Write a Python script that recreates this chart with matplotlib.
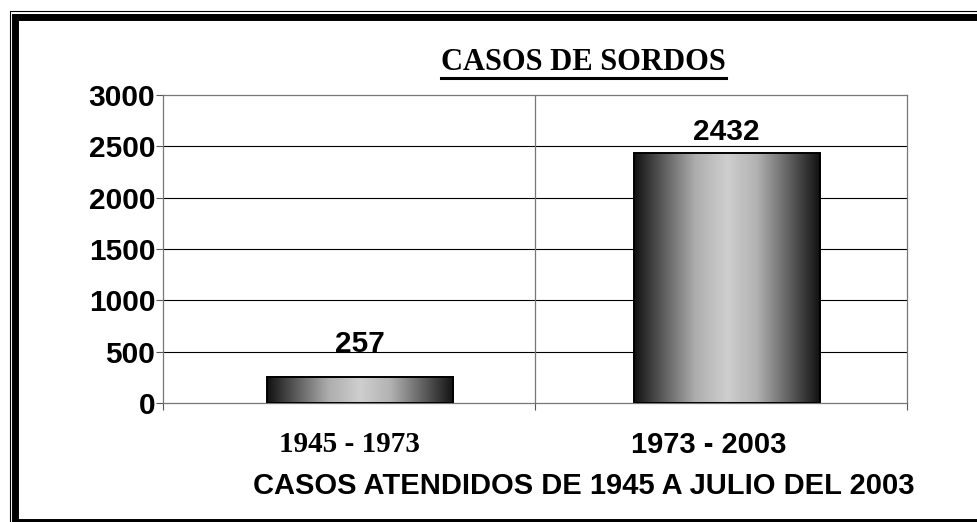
import numpy as np
import matplotlib
matplotlib.use('Agg')
import matplotlib.pyplot as plt
from matplotlib.colors import LinearSegmentedColormap
from matplotlib.patches import Rectangle
from matplotlib.lines import Line2D
import matplotlib.transforms as mtransforms

# data
periodos = ['1945 - 1973', '1973 - 2003']
casos = [257, 2432]
titulo = 'CASOS DE SORDOS'
xlabel = 'CASOS ATENDIDOS DE 1945 A JULIO DEL 2003'
yticks = [0, 500, 1000, 1500, 2000, 2500, 3000]

W, H = 977, 522
fig = plt.figure(figsize=(W/100, H/100), dpi=100)
fig.patch.set_facecolor('white')

def fx(px): return px / W
def fy(py): return (H - py) / H

# double frame (cropped at right / bottom in the original)
fig.add_artist(Rectangle((fx(9.5), fy(528)), fx(1000), fy(10.5) - fy(528),
                         transform=fig.transFigure, fill=False, ec='black', lw=0.8))
fig.add_artist(Rectangle((fx(15.5), fy(521.5)), fx(1000), fy(16.5) - fy(521.5),
                         transform=fig.transFigure, fill=False, ec='black', lw=5.0))

ax = fig.add_axes([fx(163), fy(403), fx(907) - fx(163), fy(95) - fy(403)])

# gradient bars
cmap = LinearSegmentedColormap.from_list('bar', [
    (0.0, (0.07, 0.07, 0.07)), (0.15, (0.35, 0.35, 0.35)), (0.33, (0.68, 0.68, 0.68)),
    (0.5, (0.81, 0.81, 0.81)), (0.66, (0.70, 0.70, 0.70)), (0.85, (0.35, 0.35, 0.35)),
    (1.0, (0.07, 0.07, 0.07))])
grad = np.linspace(0, 1, 256).reshape(1, -1)
width = 0.5
x = np.arange(len(casos))
bar_x = x + np.array([0.03, 0.015])  # bars sit a bit right of the category centre
for xi, v in zip(bar_x, casos):
    ax.imshow(grad, cmap=cmap, extent=[xi - width/2, xi + width/2, 0, v],
              aspect='auto', zorder=2, interpolation='bilinear')
bars = ax.bar(bar_x, casos, width=width, fill=False, edgecolor='black', linewidth=1.4, zorder=3)
ax.set_xlim(-0.5, 1.5)
ax.set_ylim(0, 3000)

# value labels
offsets = [19, 7]
for b, v, off in zip(bars, casos, offsets):
    ax.annotate(str(v), (b.get_x() + b.get_width()/2, v), xytext=(0, off * 0.72),
                textcoords='offset points', ha='center', va='bottom',
                fontsize=21.5, fontweight='bold', family='Liberation Sans', zorder=4)

# grid
for yv in yticks[1:-1]:
    ax.axhline(yv, color='black', lw=0.8, zorder=1)
ax.axvline(0.5, color='#777777', lw=0.9, zorder=1)
for s in ax.spines.values():
    s.set_color('#777777')
    s.set_linewidth(0.9)

ax.set_yticks(yticks)
ax.set_yticklabels([str(t) for t in yticks], fontsize=21.5, fontweight='bold',
                   family='Liberation Sans')
ax.tick_params(axis='y', direction='out', length=5, width=0.8, color='#555555', pad=0.5)

ax.set_xticks([-0.5, 0.5, 1.5])
ax.set_xticklabels([])
ax.tick_params(axis='x', which='major', direction='out', length=5, width=0.8, color='#555555')
ax.set_xticks(x, minor=True)
ax.set_xticklabels(periodos, minor=True, fontsize=21, fontweight='bold')
ax.tick_params(axis='x', which='minor', length=0, pad=20)
lbls = ax.get_xticklabels(minor=True)
lbls[0].set_family('Liberation Serif')
lbls[1].set_family('Liberation Sans')
lbls[1].set_transform(lbls[1].get_transform() +
                      mtransforms.ScaledTranslation(-12/100, 0, fig.dpi_scale_trans))

# title (underlined) and axis caption
t = fig.text(fx(583.5), fy(70), titulo, ha='center', va='baseline', fontsize=22,
             fontweight='bold', family='Liberation Serif')
fig.text(fx(583.5), fy(494), xlabel, ha='center', va='baseline', fontsize=21,
         fontweight='bold', family='Liberation Sans')

fig.canvas.draw()
bb = t.get_window_extent()
fig.add_artist(Line2D([bb.x0 / W, bb.x1 / W], [fy(77.5), fy(77.5)],
                      transform=fig.transFigure, color='black', lw=2.2))

fig.savefig('out.png', dpi=100)
